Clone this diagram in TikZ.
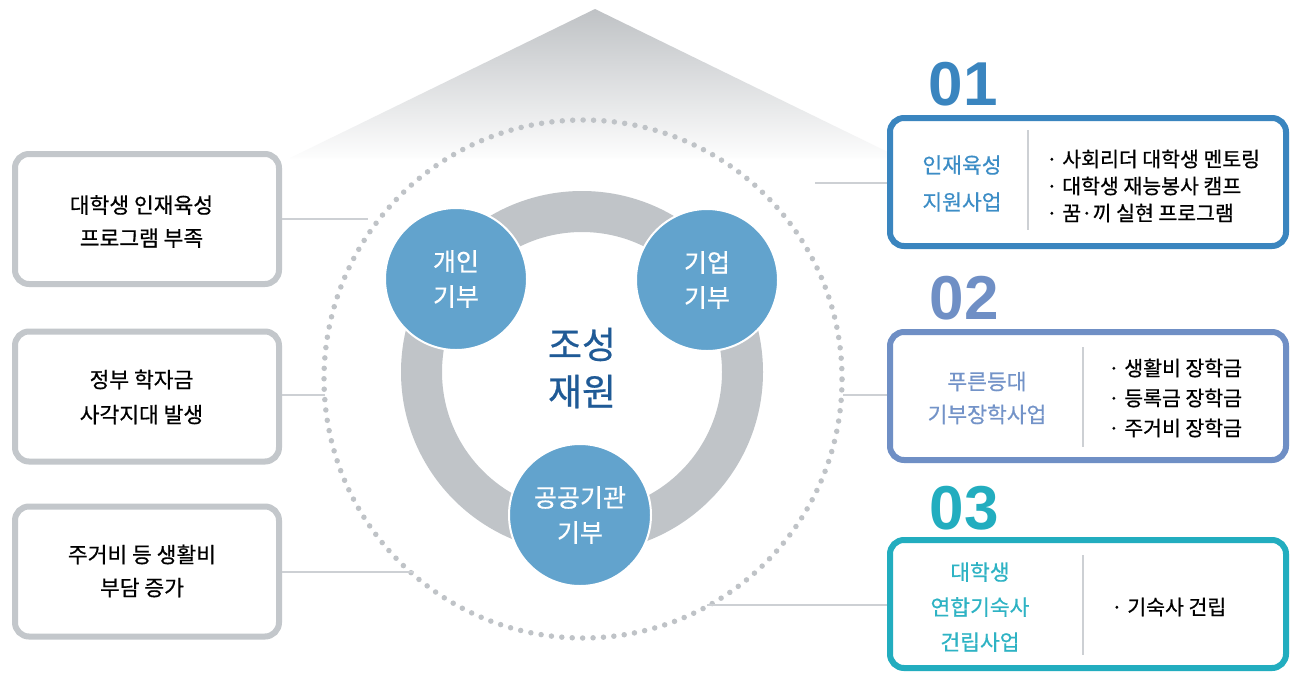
\documentclass[tikz,border=0pt]{standalone}
\usepackage{fontspec}
\setmainfont{Noto Sans CJK KR}[FakeBold=0.6]
\newfontfamily\numfont{Liberation Sans}
\definecolor{ringgray}{HTML}{C0C4C8}
\definecolor{dotgray}{HTML}{BFC3C7}
\definecolor{circblue}{HTML}{62A3CD}
\definecolor{centerblue}{HTML}{1F5A96}
\definecolor{boxgray}{HTML}{C3C7CB}
\definecolor{blueA}{HTML}{3A85BF}
\definecolor{blueAt}{HTML}{3C8DC6}
\definecolor{blueB}{HTML}{6F8FC5}
\definecolor{blueBt}{HTML}{7393C8}
\definecolor{blueC}{HTML}{22ADBF}
\definecolor{blueCt}{HTML}{2EB3C4}
\definecolor{linegray}{HTML}{CDD0D4}
\definecolor{roofgray}{HTML}{BFC2C5}
\tikzset{
  leftbox/.style={draw=boxgray, line width=6pt, rounded corners=14pt, minimum width=264pt, minimum height=130pt, fill=white},
  rightbox/.style={line width=6pt, rounded corners=14pt, minimum width=396pt, minimum height=128pt, fill=white},
  bubble/.style={circle, fill=circblue, draw=white, line width=2pt, minimum size=142pt, inner sep=0pt, text=white, align=center, font=\fontsize{25}{35}\selectfont},
  conn/.style={draw=linegray, line width=1.5pt},
  divider/.style={draw=linegray, line width=2pt},
  txt/.style={inner sep=0pt, align=center},
  bullets/.style={inner sep=0pt, align=left, anchor=west},
  bignum/.style={inner sep=0pt, font=\numfont\bfseries\fontsize{62}{62}\selectfont}
}
\begin{document}
\begin{tikzpicture}[x=1pt,y=-1pt]
\useasboundingbox (0,0) rectangle (1290,673);
\fill[white] (0,0) rectangle (1290,673);
% roof
\shade[top color=roofgray, bottom color=white!97!roofgray] (595,9) -- (290,158) -- (900,158) -- cycle;
% dotted circle
\draw[dotgray, line width=5.5pt, line cap=round, dash pattern=on 0pt off 10.43pt] (583,379) circle[radius=259pt];
% ring
\draw[ringgray, line width=41pt] (582,372) circle[radius=160.5pt];
% center text
\node[txt, text=centerblue, font=\fontsize{37}{47}\selectfont] (ctr) at (582,368) {조성\\재원};
% bubbles
\node[bubble] (b1) at (456,279) {개인\\기부};
\node[bubble] (b2) at (707,280) {기업\\기부};
\node[bubble] (b3) at (580,515) {공공기관\\기부};
% left boxes
\node[leftbox] (L1) at (147,219) {};
\node[leftbox] (L2) at (147,396.5) {};
\node[leftbox] (L3) at (147,571.5) {};
\node[txt, font=\fontsize{21.5}{33}\selectfont] (L1t) at (141.5,221.5) {대학생 인재육성\\프로그램 부족};
\node[txt, font=\fontsize{21.5}{35}\selectfont] (L2t) at (141.5,397) {정부 학자금\\사각지대 발생};
\node[txt, font=\fontsize{21.5}{33}\selectfont] (L3t) at (142,571) {주거비 등 생활비\\부담 증가};
\coordinate (p1) at (368,219);
\coordinate (p2) at (325,395);
\coordinate (p3) at (414,572);
\draw[conn] (L1.east |- p1) -- (p1);
\draw[conn] (L2.east |- p2) -- (p2);
\draw[conn] (L3.east |- p3) -- (p3);
% right boxes
\node[rightbox, draw=blueA] (R1) at (1088,182) {};
\node[rightbox, draw=blueB] (R2) at (1088,396) {};
\node[rightbox, draw=blueC] (R3) at (1088,604) {};
\coordinate (q1) at (815,183);
\coordinate (q2) at (843,395);
\coordinate (q3) at (707,605);
\draw[conn] (q1) -- (R1.west |- q1);
\draw[conn] (q2) -- (R2.west |- q2);
\draw[conn] (q3) -- (R3.west |- q3);
% numbers
\node[bignum, text=blueA] (n1) at (963,84) {01};
\node[bignum, text=blueB] (n2) at (964,298) {02};
\node[bignum, text=blueC] (n3) at (964,508) {03};
% box 1 content
\node[txt, text=blueAt, font=\fontsize{21.5}{37}\selectfont] (R1l) at (962,183.5) {인재육성\\지원사업};
\coordinate (d1a) at (1028,130);
\coordinate (d1b) at (1028,230);
\draw[divider] (d1a) -- (d1b);
\node[bullets, font=\fontsize{20.5}{27}\selectfont] (R1b) at (1046,186) {· 사회리더 대학생 멘토링\\· 대학생 재능봉사 캠프\\· 꿈·끼 실현 프로그램};
% box 2 content
\node[txt, text=blueBt, font=\fontsize{21.5}{33}\selectfont] (R2l) at (987,398) {푸른등대\\기부장학사업};
\coordinate (d2a) at (1083,347);
\coordinate (d2b) at (1083,447);
\draw[divider] (d2a) -- (d2b);
\node[bullets, font=\fontsize{20.5}{30}\selectfont] (R2b) at (1108,398) {· 생활비 장학금\\· 등록금 장학금\\· 주거비 장학금};
% box 3 content
\node[txt, text=blueCt, font=\fontsize{21.5}{35}\selectfont] (R3l) at (980,607) {대학생\\연합기숙사\\건립사업};
\coordinate (d3a) at (1083,555);
\coordinate (d3b) at (1083,655);
\draw[divider] (d3a) -- (d3b);
\node[bullets, font=\fontsize{20.5}{30}\selectfont] (R3b) at (1111,607) {· 기숙사 건립};
\end{tikzpicture}
\end{document}
